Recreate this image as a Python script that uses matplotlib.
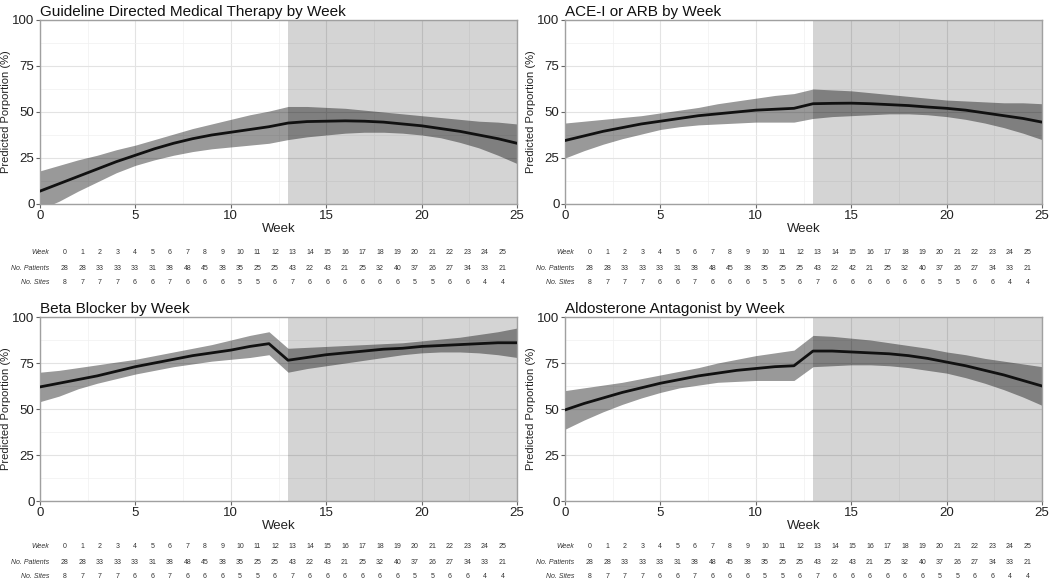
import numpy as np
import matplotlib.pyplot as plt

weeks = np.arange(26)
n_patients = [28, 28, 33, 33, 33, 31, 38, 48, 45, 38, 35, 25, 25, 43, 22, 43, 21, 25, 32, 40, 37, 26, 27, 34, 33, 21]
n_patients_ace = [28, 28, 33, 33, 33, 31, 38, 48, 45, 38, 35, 25, 25, 43, 22, 42, 21, 25, 32, 40, 37, 26, 27, 34, 33, 21]
n_sites = [8, 7, 7, 7, 6, 6, 7, 6, 6, 6, 5, 5, 6, 7, 6, 6, 6, 6, 6, 6, 5, 5, 6, 6, 4, 4]

titles = ["Guideline Directed Medical Therapy by Week", "ACE-I or ARB by Week",
          "Beta Blocker by Week", "Aldosterone Antagonist by Week"]

gdmt_fit = [7, 11, 15, 19, 23, 26.5, 30, 33, 35.5, 37.5, 39, 40.5, 42, 44, 44.8, 45, 45.2, 45, 44.5, 43.5,
            42.5, 41, 39.5, 37.5, 35.5, 33]
gdmt_hi = [18, 21, 24, 26.5, 29.5, 32, 35, 38, 41, 43.5, 46, 48.5, 50.5, 53, 53, 52.5, 52, 51, 50, 49,
           48, 47, 46, 45, 44.5, 43.5]
gdmt_lo = [-3, 1.5, 7, 12, 17, 21, 24, 26.5, 28.5, 30, 31, 32, 33, 35, 36.5, 37.5, 38.5, 39, 39, 38.5,
           37.5, 36, 33.5, 30.5, 26.5, 22]

ace_fit = [34.5, 37, 39.5, 41.5, 43.5, 45, 46.5, 48, 49, 50, 51, 51.5, 52, 54.5, 54.7, 54.8, 54.5, 54, 53.5,
           52.7, 52, 51, 49.5, 48, 46.5, 44.5]
ace_hi = [44, 45, 46, 47, 48, 49.5, 51, 52.5, 54.5, 56, 57.5, 59, 60, 62.5, 62, 61.5, 60.5, 59.5, 58.5, 57.5,
          56.5, 56, 55.5, 55, 55, 54.5]
ace_lo = [25, 29, 32.5, 35.5, 38, 40.5, 42, 43, 43.5, 44, 44.5, 44.5, 44.5, 46.5, 47.5, 48, 48.5, 49, 49,
          48.5, 47.5, 46, 44, 41.5, 38.5, 35]

bb_fit = [62, 64, 66, 68, 70.5, 73, 75, 77, 79, 80.5, 82, 84, 85.5, 76.5, 78, 79.5, 80.5, 81.5, 82.5, 83,
          84, 84.5, 85, 85.5, 86, 86]
bb_hi = [70, 71, 72.5, 74, 75.5, 77, 79, 81, 83, 85, 87.5, 90, 92, 83, 83.5, 84, 84.5, 85, 85.5, 86,
         87, 88, 89, 90.5, 92, 94]
bb_lo = [54, 57, 61, 64, 66.5, 69, 71, 73, 74.5, 76, 77, 78, 79.5, 70, 72, 73.5, 75, 76.5, 78, 79.5,
         80.5, 81, 81, 80.5, 79.5, 78]

ald_fit = [49.5, 53, 56, 59, 61.5, 64, 66, 68, 69.5, 71, 72, 73, 73.5, 81.5, 81.5, 81, 80.5, 80, 79, 77.5,
           75.5, 73.5, 71, 68.5, 65.5, 62.5]
ald_hi = [60, 61.5, 63, 64.5, 66.5, 68.5, 70.5, 72.5, 75, 77, 79, 80.5, 82, 90, 89.5, 88.5, 87.5, 86, 84.5,
          83, 81, 79.5, 77.5, 76, 74.5, 73]
ald_lo = [39, 44, 48.5, 52.5, 56, 59, 61.5, 63, 64.5, 65, 65.5, 65.5, 65.5, 73, 73.5, 74, 74, 73.5, 72.5,
          71, 69.5, 67, 64, 60.5, 56.5, 52]

fits = [gdmt_fit, ace_fit, bb_fit, ald_fit]
his = [gdmt_hi, ace_hi, bb_hi, ald_hi]
los = [gdmt_lo, ace_lo, bb_lo, ald_lo]
patients = [n_patients, n_patients_ace, n_patients, n_patients]

W, H = 1050, 583
fig = plt.figure(figsize=(10.5, 5.83), dpi=100)
plt.rcParams.update({'font.family': 'Liberation Sans'})

# pixel boxes of each panel (left, top) and table rows
panel_left = [40, 565, 40, 565]
panel_top = [20, 20, 317, 317]
table_rows = [[252, 268, 283], [252, 268, 283], [546, 562, 577], [546, 562, 577]]
pw, ph = 477, 184

for i in range(4):
    l, t = panel_left[i], panel_top[i]
    ax = fig.add_axes([l / W, 1 - (t + ph) / H, pw / W, ph / H])
    ax.set_facecolor('white')
    ax.axvspan(13, 25, color='black', alpha=0.17, lw=0, zorder=1)
    ax.fill_between(weeks, los[i], his[i], color='black', alpha=0.4, lw=0, zorder=2)
    ax.plot(weeks, fits[i], color='#111111', lw=2.0, zorder=3)
    ax.set_xlim(0, 25)
    ax.set_ylim(0, 100)
    ax.set_xticks([0, 5, 10, 15, 20, 25])
    ax.set_yticks([0, 25, 50, 75, 100])
    ax.set_xticks(np.arange(2.5, 25, 5), minor=True)
    ax.set_yticks(np.arange(12.5, 100, 25), minor=True)
    ax.grid(which='major', color='#e3e3e3', lw=0.8, zorder=0)
    ax.grid(which='minor', color='#f0f0f0', lw=0.5, zorder=0)
    ax.set_axisbelow(True)
    for s in ax.spines.values():
        s.set_color('#a0a0a0')
        s.set_linewidth(1)
    ax.tick_params(which='major', length=3, color='#666666', labelsize=9.5, labelcolor='#222222', pad=1)
    ax.tick_params(which='minor', length=0)
    ax.set_xlabel('Week', fontsize=9.5, color='#222222', labelpad=1)
    ax.set_ylabel('Predicted Porportion (%)', fontsize=8, color='#222222')
    ax.yaxis.set_label_coords(-29 / pw, 0.5)
    ax.set_title(titles[i], loc='left', fontsize=11, color='#111111', pad=3)

    # at-risk style table under each panel
    x0 = l + 25
    labels = ['Week', 'No. Patients', 'No. Sites']
    rows = [weeks, patients[i], n_sites]
    for r in range(3):
        y = 1 - table_rows[i][r] / H
        fig.text((x0 - 16) / W, y, labels[r], ha='right', va='center', fontsize=5,
                 style='italic', color='#333333')
        for k, v in enumerate(rows[r]):
            fig.text((x0 + k * 17.5) / W, y, str(v), ha='center', va='center', fontsize=5,
                     color='#333333')

plt.savefig('out.png', dpi=100)
